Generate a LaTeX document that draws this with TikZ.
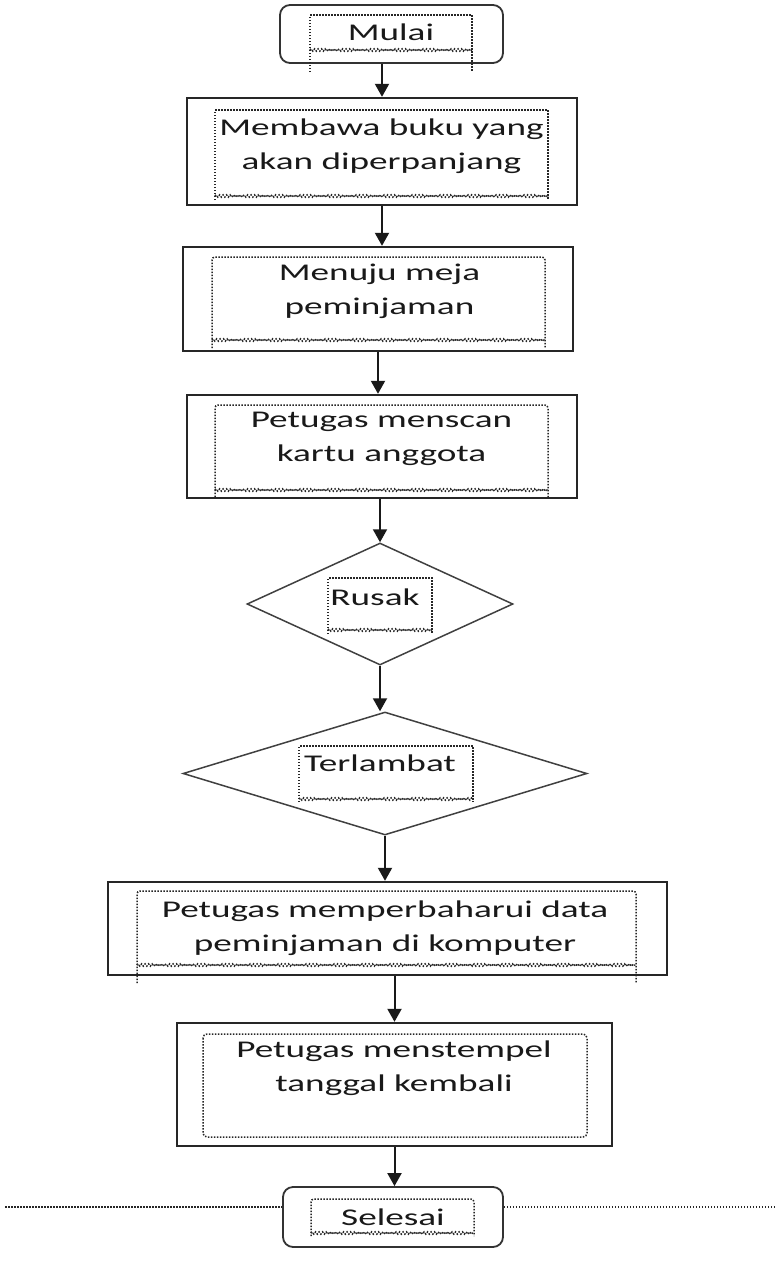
\documentclass[tikz,border=0pt]{standalone}
\usepackage{fontspec}
\setmainfont{Carlito}[FakeStretch=1.55]
\usetikzlibrary{arrows.meta, shapes.geometric, decorations.pathmorphing}

\tikzset{
  terminal/.style={draw=black!80, line width=1.8pt, rounded corners=10pt, inner sep=0pt},
  proses/.style={draw=black!85, line width=2.4pt, inner sep=0pt},
  keputusan/.style={diamond, draw=black!75, line width=1.5pt, inner sep=0pt},
  teks/.style={align=center, inner sep=0pt, text=black!90, font=\fontsize{24}{34}\selectfont},
  bingkai/.style={line width=1.5pt, dash pattern=on 1.5pt off 1.5pt, black!85},
  gelombang/.style={bingkai, decorate, decoration={snake, amplitude=1.1pt, segment length=3.5pt}},
  panah/.style={-{Triangle[length=13pt, width=14pt]}, line width=2pt, black!90}
}

\begin{document}
\begin{tikzpicture}[x=1pt, y=-1pt]
  \useasboundingbox (0,0) rectangle (774,1280);

  % bentuk utama
  \node[terminal, minimum width=223pt, minimum height=58pt] (mulai) at (391.5,34) {};
  \node[proses, minimum width=390pt, minimum height=107pt] (bawa) at (382,151.5) {};
  \node[proses, minimum width=390pt, minimum height=104pt] (meja) at (378,299) {};
  \node[proses, minimum width=390pt, minimum height=103pt] (scan) at (382,446.5) {};
  \node[keputusan, minimum width=266pt, minimum height=122pt] (rusak) at (380,604) {};
  \node[keputusan, minimum width=404pt, minimum height=123pt] (telat) at (385,773.5) {};
  \node[proses, minimum width=559pt, minimum height=93pt] (update) at (387.5,928.5) {};
  \node[proses, minimum width=435pt, minimum height=123pt] (stempel) at (394.5,1084.5) {};
  \node[terminal, minimum width=220pt, minimum height=60pt] (selesai) at (393,1217) {};

  % kotak teks bertitik
  \draw[bingkai] (310,72) -- (310,15) -- (472,15) -- (472,72);
  \draw[gelombang] (310,50) -- (472,50);
  \draw[bingkai] (215,200) -- (215,110) -- (548,110) -- (548,200);
  \draw[gelombang] (215,196) -- (548,196);
  \draw[bingkai, rounded corners=3pt] (212,348) -- (212,257) -- (545,257) -- (545,348);
  \draw[gelombang] (212,340) -- (545,340);
  \draw[bingkai, rounded corners=3pt] (215,497) -- (215,405) -- (548,405) -- (548,497);
  \draw[gelombang] (215,490) -- (548,490);
  \draw[bingkai] (328,634) -- (328,578) -- (432,578) -- (432,634);
  \draw[gelombang] (328,630) -- (432,630);
  \draw[bingkai] (299,802) -- (299,746) -- (473,746) -- (473,802);
  \draw[gelombang] (299,799) -- (473,799);
  \draw[bingkai, rounded corners=3pt] (137,983) -- (137,891) -- (636,891) -- (636,983);
  \draw[gelombang] (137,965) -- (636,965);
  \draw[bingkai, rounded corners=4pt] (203,1034) rectangle (587,1137);
  \draw[bingkai, rounded corners=3pt] (311,1236) -- (311,1199) -- (474,1199) -- (474,1236);
  \draw[gelombang] (311,1233) -- (474,1233);

  % teks
  \node[teks] (mulaiT) at (391,32) {Mulai};
  \node[teks] (bawaT) at (381.5,146) {Membawa buku yang\\akan diperpanjang};
  \node[teks] (mejaT) at (379.5,291) {Menuju meja\\peminjaman};
  \node[teks] (scanT) at (381.5,439) {Petugas menscan\\kartu anggota};
  \node[teks] (rusakT) at (375,597) {Rusak};
  \node[teks] (telatT) at (380,763) {Terlambat};
  \node[teks] (updateT) at (385,928) {Petugas memperbaharui data\\peminjaman di komputer};
  \node[teks] (stempelT) at (394,1068) {Petugas menstempel\\tanggal kembali};
  \node[teks] (selesaiT) at (393,1217) {Selesai};

  % garis titik di kiri-kanan selesai
  \coordinate (garisKiri) at (5,1207);
  \coordinate (garisKanan) at (774,1207);
  \draw[bingkai, line width=1.1pt] (garisKiri) -- (garisKiri -| selesai.west);
  \draw[bingkai, line width=1.1pt] (garisKanan -| selesai.east) -- (garisKanan);

  % panah
  \draw[panah] (mulai.south -| bawa.north) -- (bawa.north);
  \draw[panah] (bawa.south) -- (bawa.south |- meja.north);
  \draw[panah] (meja.south) -- (meja.south |- scan.north);
  \draw[panah] (rusak.north |- scan.south) -- (rusak.north);
  \draw[panah] (rusak.south) -- (rusak.south |- telat.north);
  \draw[panah] (telat.south) -- (telat.south |- update.north);
  \draw[panah] (stempel.north |- update.south) -- (stempel.north);
  \draw[panah] (stempel.south) -- (stempel.south |- selesai.north);
\end{tikzpicture}
\end{document}
